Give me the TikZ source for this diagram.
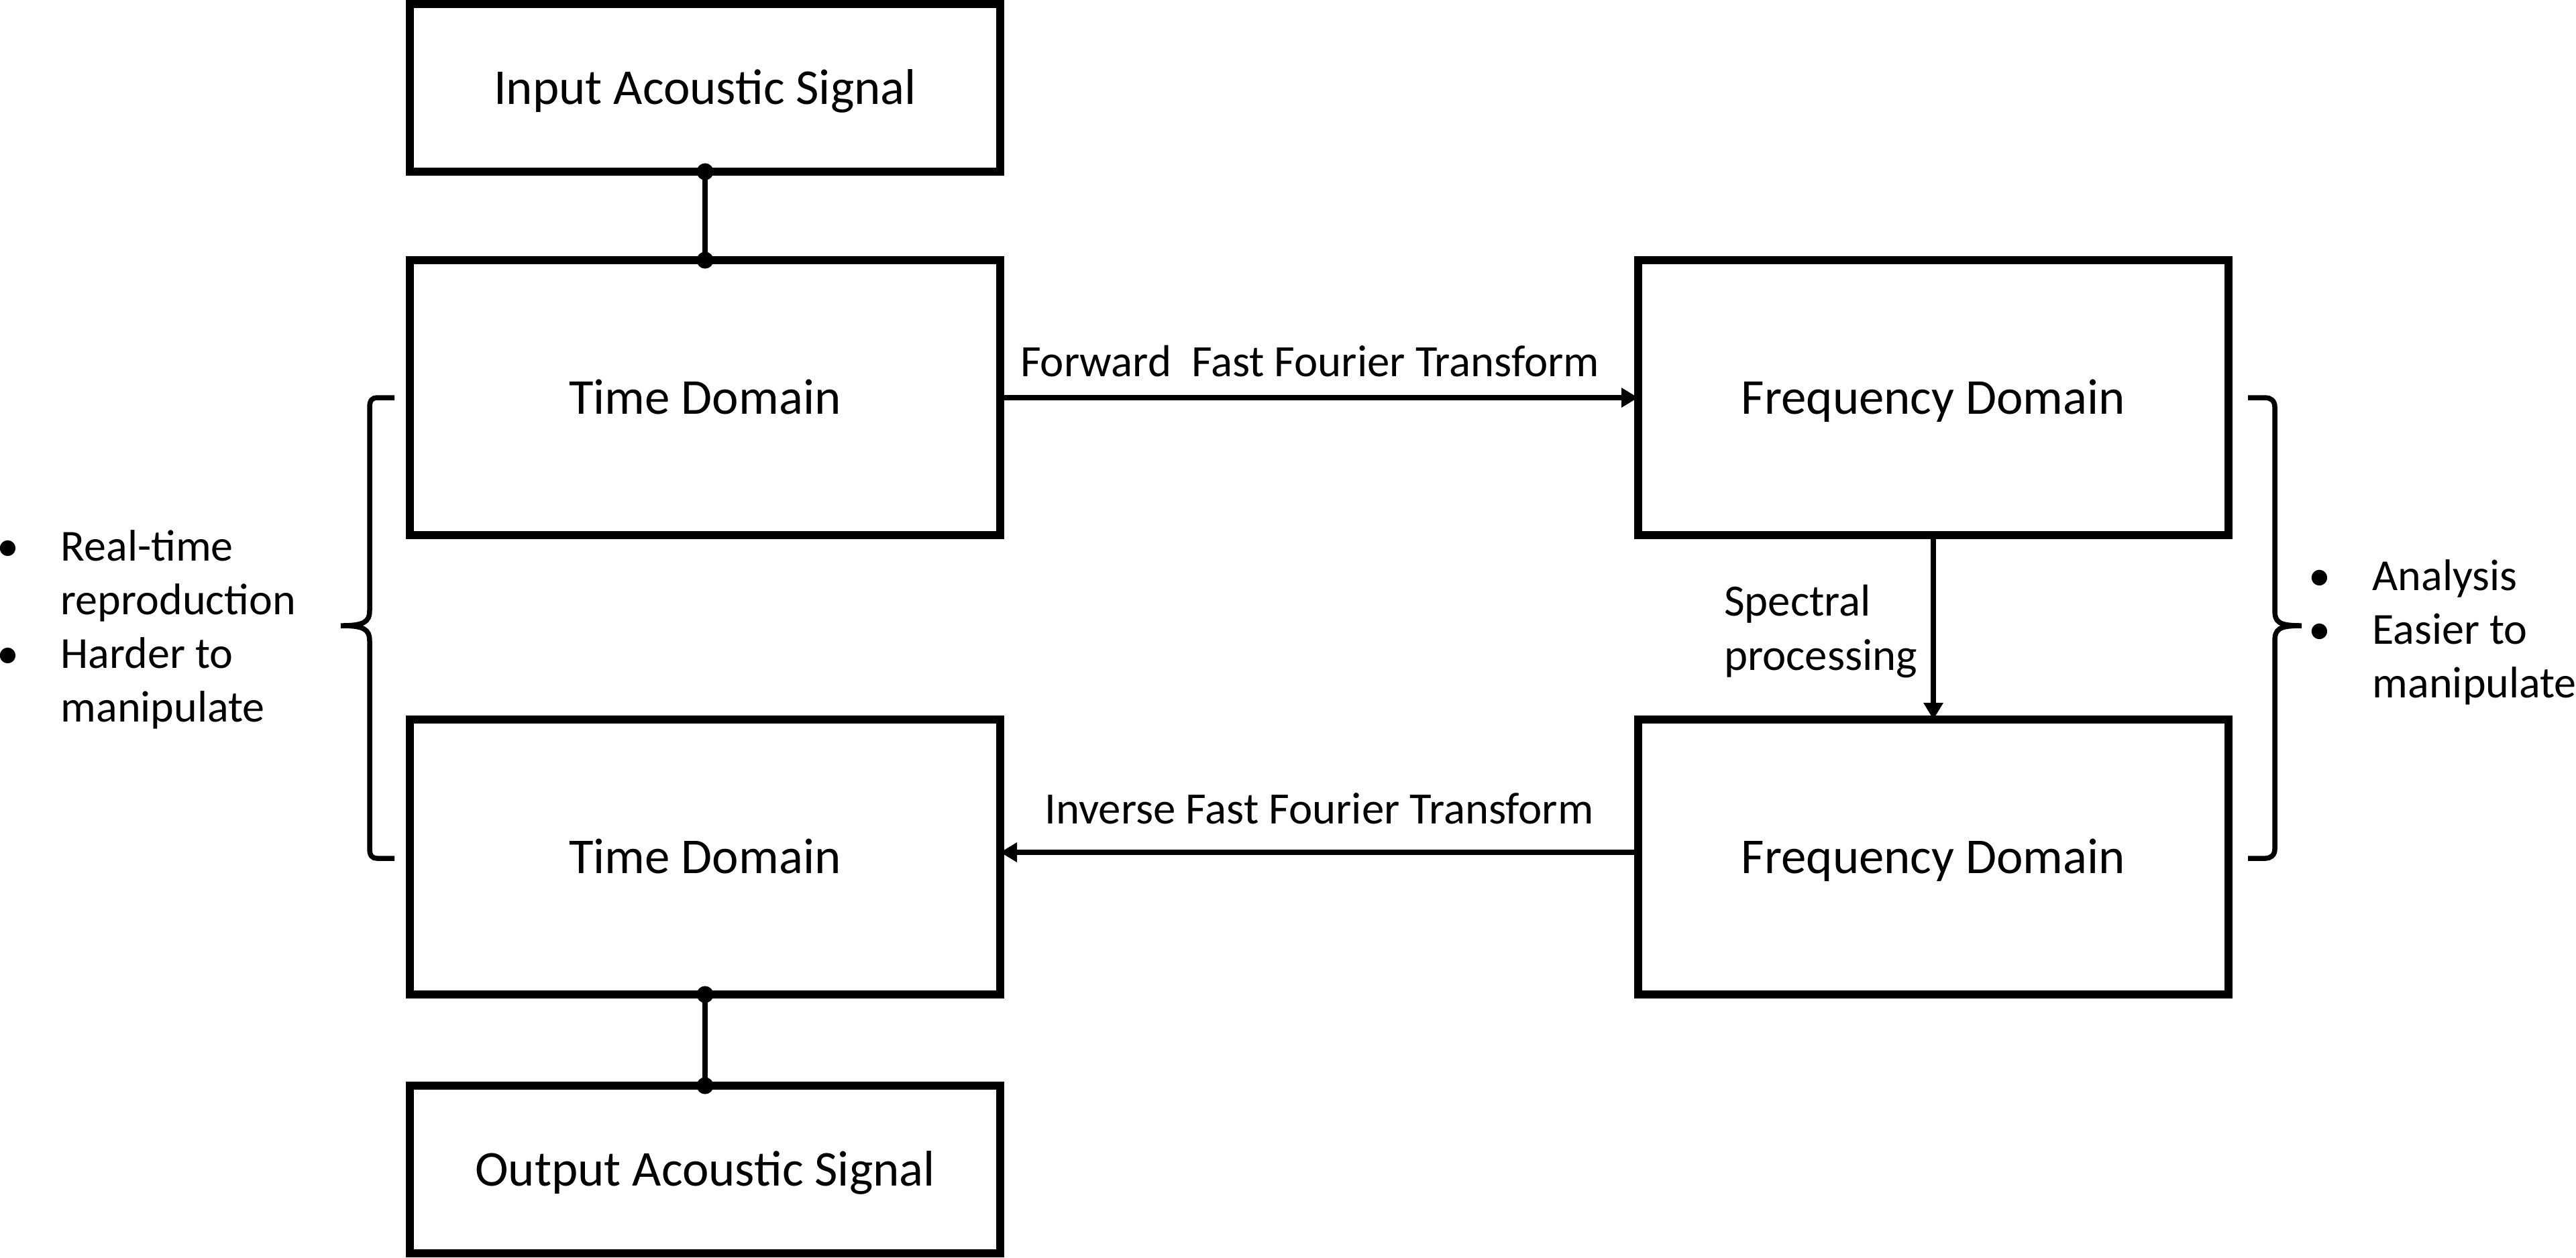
\documentclass[tikz,border=0pt]{standalone}
\usepackage{fontspec}
\setmainfont{Carlito}
\usetikzlibrary{arrows.meta,positioning}

\begin{document}
\begin{tikzpicture}[
    blockbox/.style={rectangle, draw=black, line width=0.12cm, minimum width=8.8cm,
      inner sep=0pt, outer sep=0pt, align=center, text height=0.63cm, text depth=0.15cm,
      font=\fontsize{21.3}{25}\selectfont},
    domainbox/.style={blockbox, minimum height=4.1cm},
    signalbox/.style={blockbox, minimum height=2.5cm},
    arr/.style={-{Triangle[length=0.25cm, width=0.28cm]}, line width=0.075cm},
    link/.style={{Circle[length=0.25cm]}-{Circle[length=0.25cm]}, line width=0.075cm,
      shorten <=-0.125cm, shorten >=-0.125cm},
    lbl/.style={font=\fontsize{19}{23}\selectfont, inner sep=0pt},
    note/.style={font=\fontsize{18.8}{22.8}\selectfont, inner sep=0pt},
    curly/.style={line width=0.075cm}
  ]
    \useasboundingbox (0,0) rectangle (38.4,-18.75);
    % Signal boxes
    \node[signalbox] (in) at (10.51,-1.31) {Input Acoustic Signal};
    \node[signalbox] (out) at (10.51,-17.44) {Output Acoustic Signal};
    % Domain boxes
    \node[domainbox] (td1) at (10.51,-5.93) {Time Domain};
    \node[domainbox] (fd1) at (28.82,-5.93) {Frequency Domain};
    \node[domainbox] (fd2) at (28.82,-12.78) {Frequency Domain};
    \node[domainbox] (td2) at (10.51,-12.78) {Time Domain};
    % Links and arrows
    \draw[link] (in) -- (td1);
    \draw[link] (td2) -- (out);
    \draw[arr] (td1) -- node[lbl, above=0.27cm, xshift=-0.14cm]
      {Forward\ \ Fast Fourier Transform} (fd1);
    \draw[arr] (fd1) -- node[lbl, left=0.2cm, yshift=-0.06cm, align=left]
      {Spectral\\processing} (fd2);
    \draw[arr] ([yshift=0.07cm]fd2.west) -- node[lbl, above=0.38cm]
      {Inverse Fast Fourier Transform} ([yshift=0.07cm]td2.east);
    % Braces
    \draw[curly] (5.88,-5.93) -- (5.62,-5.93) .. controls (5.55,-5.93) and (5.51,-5.97) .. (5.51,-6.07)
      -- (5.51,-9.10) .. controls (5.51,-9.28) and (5.42,-9.33) .. (5.08,-9.33)
      .. controls (5.42,-9.33) and (5.51,-9.38) .. (5.51,-9.56)
      -- (5.51,-12.66) .. controls (5.51,-12.76) and (5.55,-12.80) .. (5.62,-12.80) -- (5.88,-12.80);
    \draw[curly] (33.51,-5.93) -- (33.77,-5.93) .. controls (33.84,-5.93) and (33.91,-5.97) .. (33.91,-6.07)
      -- (33.91,-9.10) .. controls (33.91,-9.28) and (33.97,-9.33) .. (34.31,-9.33)
      .. controls (33.97,-9.33) and (33.91,-9.38) .. (33.91,-9.56)
      -- (33.91,-12.66) .. controls (33.91,-12.76) and (33.84,-12.80) .. (33.77,-12.80) -- (33.51,-12.80);
    % Notes
    \node[note, anchor=base west] (timenote) at (-0.05,-8.36) {%
      \begin{tabular}[t]{@{}p{0.95cm}@{}l@{}}
        \textbullet & Real-time\\
                    & reproduction\\
        \textbullet & Harder to\\
                    & manipulate
      \end{tabular}};
    \node[note, anchor=base west] (freqnote) at (34.41,-8.80) {%
      \begin{tabular}[t]{@{}p{0.95cm}@{}l@{}}
        \textbullet & Analysis\\
        \textbullet & Easier to\\
                    & manipulate
      \end{tabular}};
  \end{tikzpicture}
\end{document}
